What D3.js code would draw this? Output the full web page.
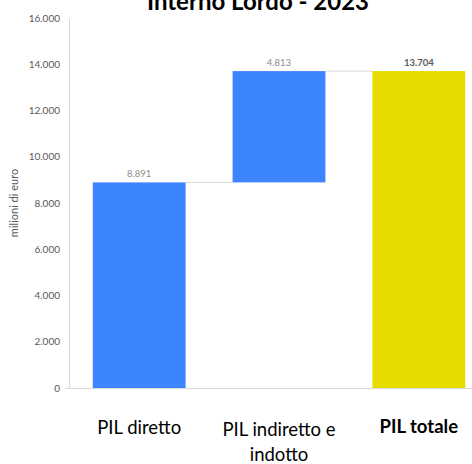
<!DOCTYPE html>
<html>
<head>
<meta charset="utf-8">
<script src="https://cdn.jsdelivr.net/npm/d3@7"></script>
<style>
  body { margin: 0; background: #fff; }
  svg { display: block; }
</style>
</head>
<body>
<div id="chart"></div>
<script>
// data
const categories = ['PIL diretto', 'PIL indiretto e indotto', 'PIL totale'];
const values = [8891, 4813, 13704];
const isTotal = [false, false, true];
const yTicks = [0, 2000, 4000, 6000, 8000, 10000, 12000, 14000, 16000];
const titleText = 'Interno Lordo - 2023';
const yLabel = 'milioni di euro';

const W = 472, H = 464;
const margin = {top: 18, left: 69, bottom: 76};
const plotH = H - margin.top - margin.bottom; // 0 at y=388

const fmt = v => d3.format(',')(v).replace(/,/g, '.');
const font = 'Lato, "Open Sans", sans-serif';

// build waterfall steps
let running = 0;
const steps = categories.map((c, i) => {
  let start, end;
  if (isTotal[i]) { start = 0; end = values[i]; running = values[i]; }
  else { start = running; end = running + values[i]; running = end; }
  return {name: c, start, end, value: values[i], total: isTotal[i]};
});

/// SETUP scales
const x = d3.scaleBand()
  .domain(categories)
  .range([margin.left, 489])
  .paddingInner(0.336)
  .paddingOuter(0.17);

const y = d3.scaleLinear()
  .domain([0, 16000])
  .range([margin.top + plotH, margin.top]);

const svg = d3.select('#chart').append('svg')
  .attr('width', W).attr('height', H);

/// title (partly cut at top)
svg.append('text')
  .attr('x', 258).attr('y', 10)
  .attr('text-anchor', 'middle')
  .style('font-family', font)
  .style('font-weight', 'bold')
  .style('font-size', '24px')
  .style('fill', '#000')
  .text(titleText);

/// y axis
const yAxis = svg.append('g')
  .attr('transform', `translate(${margin.left},0)`)
  .call(d3.axisLeft(y).tickValues(yTicks).tickFormat(fmt).tickSize(0).tickPadding(9));
yAxis.select('.domain').attr('stroke', '#d9d9d9');
yAxis.selectAll('text')
  .style('font-family', font)
  .style('font-size', '10px')
  .style('fill', '#595959');

// x axis baseline
svg.append('line')
  .attr('x1', 65).attr('x2', W)
  .attr('y1', y(0) + 0.5).attr('y2', y(0) + 0.5)
  .attr('stroke', '#d9d9d9');

svg.append('text')
  .attr('transform', `translate(18,${(y(0) + y(16000)) / 2}) rotate(-90)`)
  .attr('text-anchor', 'middle')
  .style('font-family', font)
  .style('font-size', '11px')
  .style('fill', '#595959')
  .text(yLabel);

/// connectors
svg.selectAll('.conn')
  .data(steps.slice(0, -1))
  .join('line')
  .attr('class', 'conn')
  .attr('x1', (d, i) => x(d.name) + x.bandwidth())
  .attr('x2', (d, i) => x(steps[i + 1].name))
  .attr('y1', d => y(d.end))
  .attr('y2', d => y(d.end))
  .attr('stroke', '#d9d9d9')
  .attr('stroke-width', 1);

/// bars
svg.selectAll('.bar')
  .data(steps)
  .join('rect')
  .attr('class', 'bar')
  .attr('x', d => x(d.name))
  .attr('width', x.bandwidth())
  .attr('y', d => y(d.end))
  .attr('height', d => y(d.start) - y(d.end))
  .attr('fill', d => d.total ? '#e6dc00' : '#3d85ff');

/// value labels
svg.selectAll('.val')
  .data(steps)
  .join('text')
  .attr('class', 'val')
  .attr('x', d => x(d.name) + x.bandwidth() / 2)
  .attr('y', d => y(d.end) - 5)
  .attr('text-anchor', 'middle')
  .style('font-family', font)
  .style('font-size', '9.5px')
  .style('font-weight', d => d.total ? 'bold' : 'normal')
  .style('fill', d => d.total ? '#595959' : '#8c8c8c')
  .text(d => fmt(d.value));

/// category labels
const catLines = [['PIL diretto'], ['PIL indiretto e', 'indotto'], ['PIL totale']];
const catBase = [434, 436, 433];
steps.forEach((d, i) => {
  const t = svg.append('text')
    .attr('text-anchor', 'middle')
    .style('font-family', font)
    .style('font-size', '18.5px')
    .style('font-weight', d.total ? 'bold' : 'normal')
    .style('fill', '#000');
  catLines[i].forEach((l, j) => {
    t.append('tspan')
      .attr('x', x(d.name) + x.bandwidth() / 2)
      .attr('y', catBase[i] + j * 25)
      .text(l);
  });
});
</script>
</body>
</html>
